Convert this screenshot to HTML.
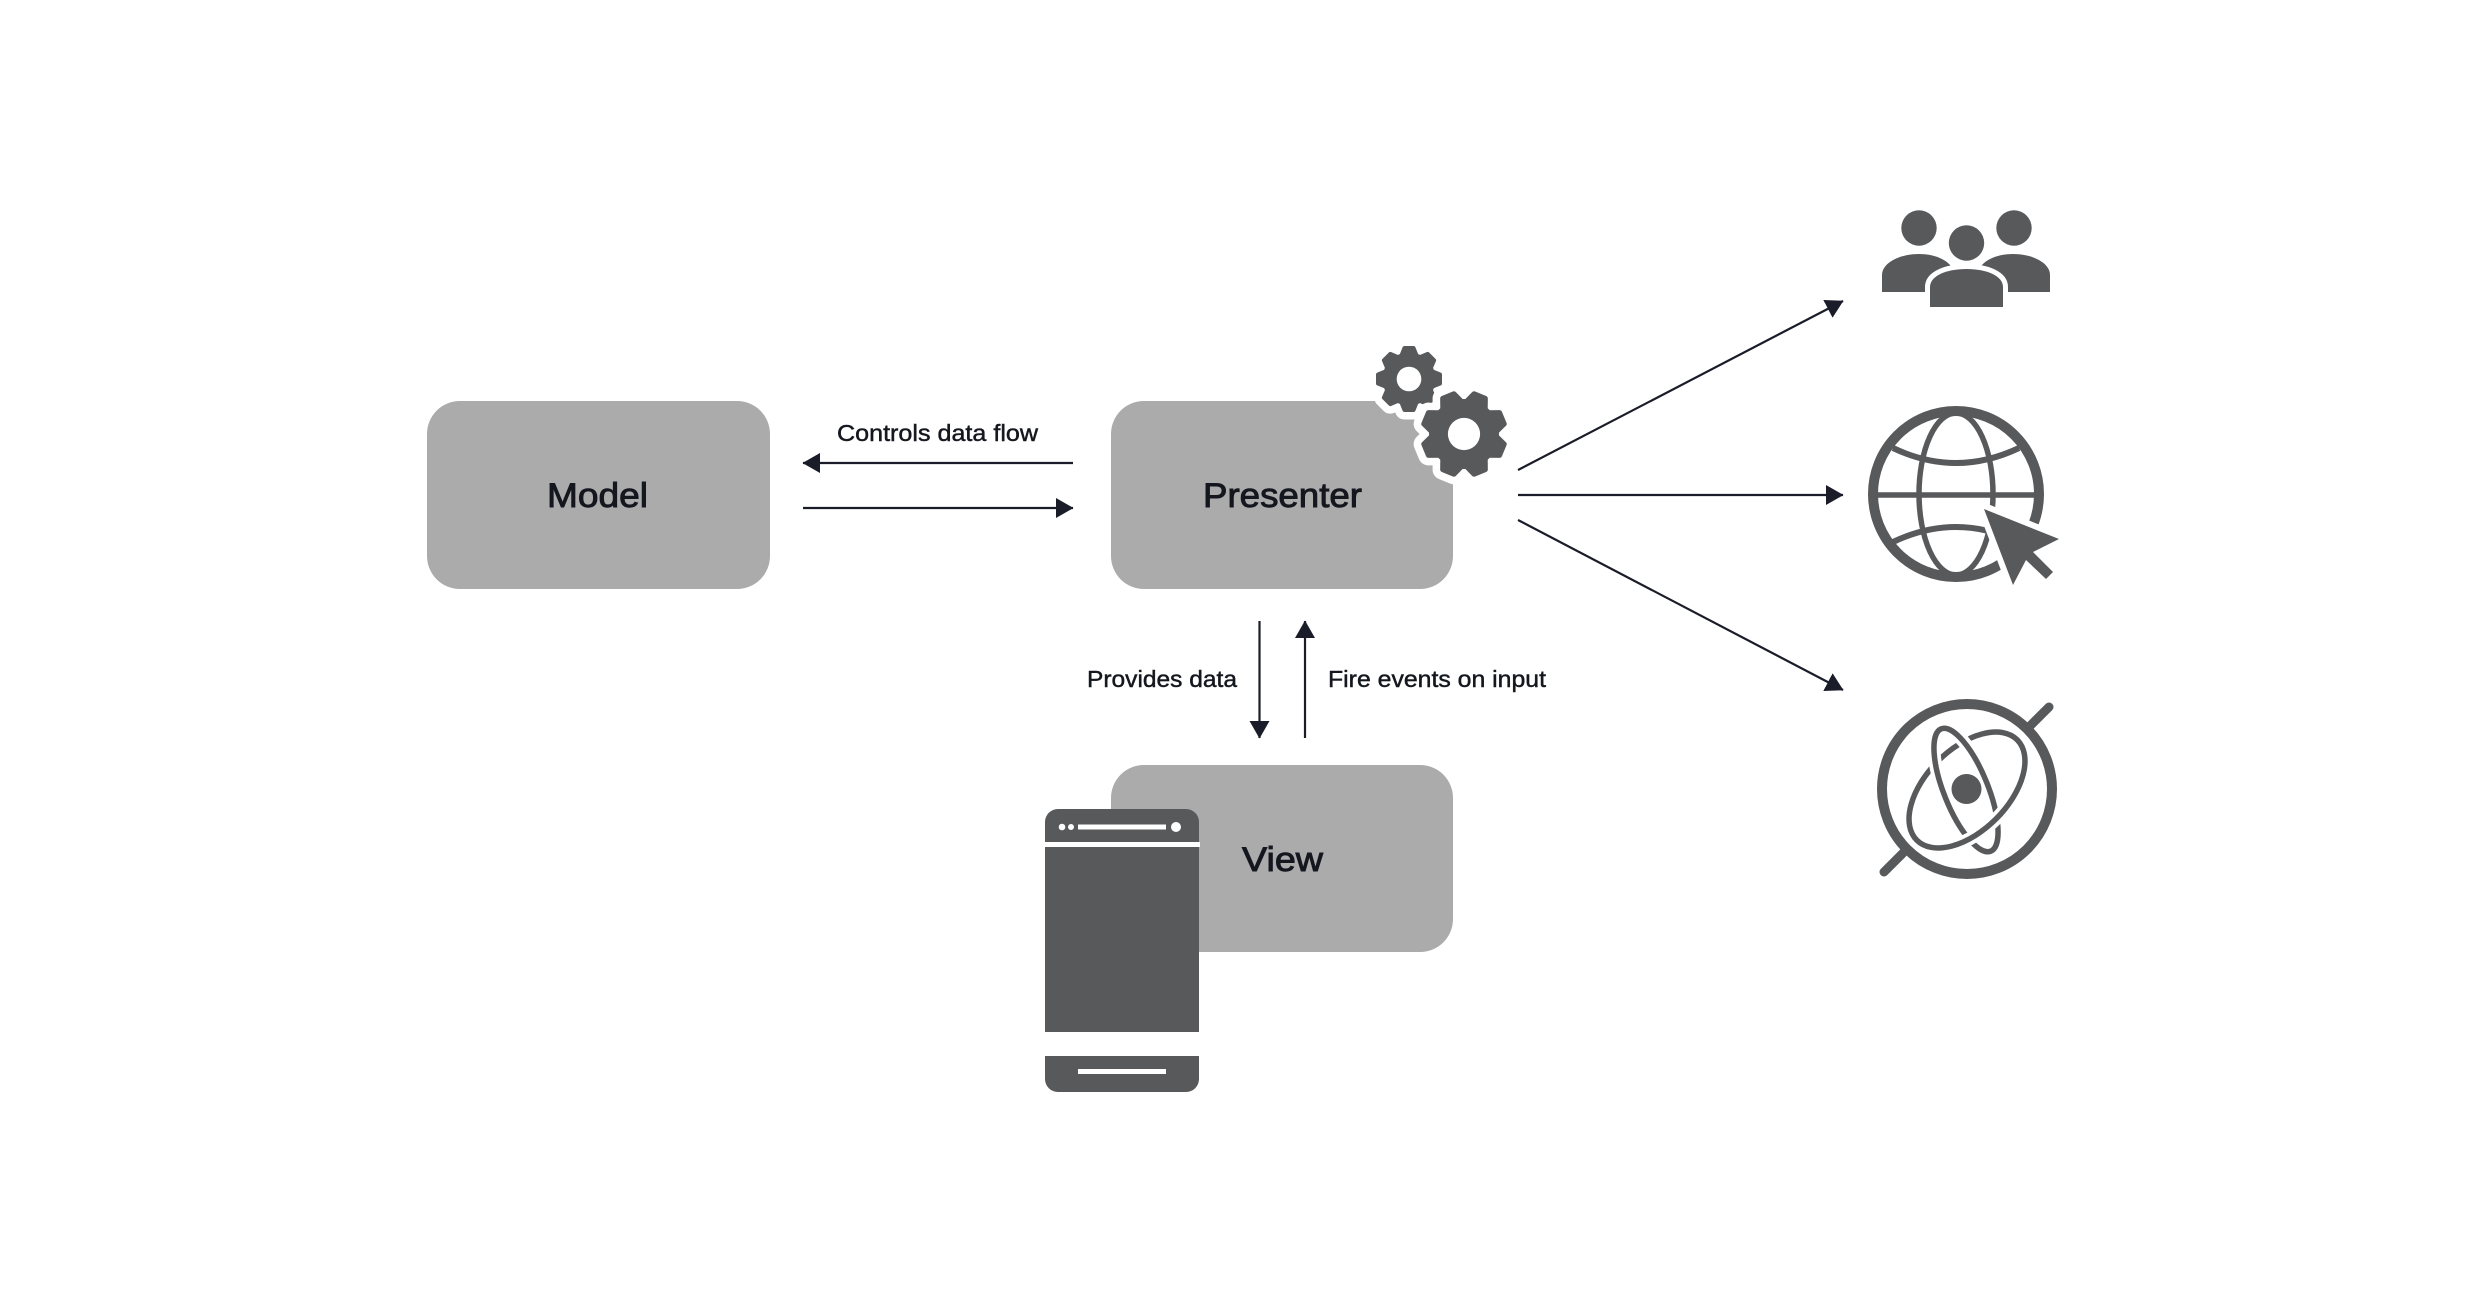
<!DOCTYPE html>
<html><head><meta charset="utf-8"><title>MVP diagram</title>
<style>
html,body{margin:0;padding:0;background:#fff;width:2488px;height:1302px;overflow:hidden}
svg{display:block}
text{font-family:"Liberation Sans",sans-serif;fill:#15171f;stroke:#15171f}
.s{font-size:23px;stroke-width:.45px}
.b{font-size:34px;stroke-width:.9px}
</style></head><body>
<svg width="2488" height="1302" viewBox="0 0 2488 1302" xmlns="http://www.w3.org/2000/svg">
<defs>
<marker id="h" markerUnits="userSpaceOnUse" markerWidth="20" markerHeight="24" refX="17" refY="12" orient="auto"><path d="M0 2 L17.5 12 L0 22Z" fill="#1a1d29"/></marker>
<path id="t" d="M-9.5 -24 L-6.5 -31.5 Q-6 -33 -4.5 -33 L4.5 -33 Q6 -33 6.5 -31.5 L9.5 -24Z"/>
<g id="gear">
<circle r="26.5"/>
<use href="#t"/>
<use href="#t" transform="rotate(45)"/>
<use href="#t" transform="rotate(90)"/>
<use href="#t" transform="rotate(135)"/>
<use href="#t" transform="rotate(180)"/>
<use href="#t" transform="rotate(225)"/>
<use href="#t" transform="rotate(270)"/>
<use href="#t" transform="rotate(315)"/>
</g>
<clipPath id="top"><rect x="1860" y="690" width="240" height="95"/></clipPath>
</defs>

<!-- boxes -->
<rect x="427" y="401" width="343" height="188" rx="33" fill="#ababac"/>
<rect x="1111" y="401" width="342" height="188" rx="33" fill="#ababac"/>
<rect x="1111" y="765" width="342" height="187" rx="33" fill="#ababac"/>
<text class="b" x="547" y="507" textLength="101" lengthAdjust="spacingAndGlyphs">Model</text>
<text class="b" x="1203" y="507" textLength="159" lengthAdjust="spacingAndGlyphs">Presenter</text>
<text class="b" x="1242" y="871" textLength="81" lengthAdjust="spacingAndGlyphs">View</text>

<!-- connectors -->
<g stroke="#1a1d29" stroke-width="2.2" fill="none" marker-end="url(#h)">
<line x1="1073" y1="463" x2="803" y2="463"/>
<line x1="803" y1="508" x2="1073" y2="508"/>
<line x1="1259.5" y1="621" x2="1259.5" y2="738"/>
<line x1="1305" y1="738" x2="1305" y2="621"/>
<line x1="1518" y1="470" x2="1843" y2="301"/>
<line x1="1518" y1="495" x2="1843" y2="495"/>
<line x1="1518" y1="520" x2="1843" y2="690"/>
</g>
<text class="s" x="837" y="441" textLength="201" lengthAdjust="spacingAndGlyphs">Controls data flow</text>
<text class="s" x="1087" y="687" textLength="150" lengthAdjust="spacingAndGlyphs">Provides data</text>
<text class="s" x="1328" y="687" textLength="218" lengthAdjust="spacingAndGlyphs">Fire events on input</text>

<!-- gears -->
<g transform="translate(1409 379)">
<use href="#gear" fill="#fff" stroke="#fff" stroke-width="15" stroke-linejoin="round"/>
<use href="#gear" fill="#58595b"/>
<circle r="12.3" fill="#fff"/>
</g>
<g transform="translate(1464 434) rotate(22.5) scale(1.32)">
<use href="#gear" fill="#fff" stroke="#fff" stroke-width="11.5" stroke-linejoin="round"/>
<use href="#gear" fill="#58595b"/>
<circle r="12.2" fill="#fff"/>
</g>

<!-- people -->
<g fill="#58595b">
<circle cx="1919" cy="228" r="17.7"/>
<circle cx="2014" cy="228" r="17.7"/>
<circle cx="1966.5" cy="243" r="17.7"/>
<path d="M1882 292 V275 C1882 263 1899 254 1919 254 C1934 254 1945 259 1951 266 L1966 292Z"/>
<path d="M2050 292 V275 C2050 263 2033 254 2013 254 C1998 254 1987 259 1981 266 L1966 292Z"/>
<path d="M1930 307 V287 C1930 276 1946 269 1966.5 269 C1987 269 2003 276 2003 287 V307Z" stroke="#fff" stroke-width="10" paint-order="stroke"/>
</g>
<rect x="1924" y="292" width="6" height="18" fill="#fff"/>
<rect x="2003" y="292" width="6" height="18" fill="#fff"/>
<rect x="1925" y="307.5" width="83" height="6" fill="#fff"/>

<!-- globe -->
<g fill="none" stroke="#58595b">
<circle cx="1956" cy="494" r="83" stroke-width="10"/>
<ellipse cx="1956" cy="494" rx="37" ry="81" stroke-width="5.5"/>
<line x1="1875" y1="495" x2="2037" y2="495" stroke-width="5.5"/>
<path d="M1893 448 Q1956 478 2019 448" stroke-width="6"/>
<path d="M1893 542 Q1956 512 2019 542" stroke-width="6"/>
</g>
<path d="M1984 509 L2059 539 L2033 552 L2053 572 L2046 579 L2026 560 L2013 585Z" fill="#58595b" stroke="#fff" stroke-width="12" stroke-linejoin="miter" paint-order="stroke"/>

<!-- atom -->
<g fill="none" stroke="#58595b">
<circle cx="1967" cy="789" r="85" stroke-width="10"/>
<line x1="2049" y1="707" x2="2030" y2="726" stroke-width="9" stroke-linecap="round"/>
<line x1="1884" y1="872" x2="1903" y2="853" stroke-width="9" stroke-linecap="round"/>
<ellipse cx="1966" cy="790" rx="22" ry="66" transform="rotate(-22 1966 790)" stroke-width="5.5"/>
<ellipse cx="1967" cy="790" rx="71" ry="41" transform="rotate(-45 1967 790)" stroke="#fff" stroke-width="13"/>
<ellipse cx="1967" cy="790" rx="71" ry="41" transform="rotate(-45 1967 790)" stroke-width="5.5"/>
<g clip-path="url(#top)">
<ellipse cx="1966" cy="790" rx="22" ry="66" transform="rotate(-22 1966 790)" stroke="#fff" stroke-width="13"/>
<ellipse cx="1966" cy="790" rx="22" ry="66" transform="rotate(-22 1966 790)" stroke-width="5.5"/>
</g>
</g>
<circle cx="1966.5" cy="789" r="15" fill="#58595b"/>

<!-- phone -->
<rect x="1045" y="809" width="154" height="283" rx="13" fill="#58595b"/>
<rect x="1044" y="842" width="156" height="5" fill="#fff"/>
<rect x="1044" y="1032" width="156" height="24" fill="#fff"/>
<circle cx="1062" cy="827" r="3.3" fill="#fff"/>
<circle cx="1071" cy="827" r="3" fill="#fff"/>
<rect x="1078" y="824.5" width="88" height="5" fill="#fff"/>
<circle cx="1176" cy="827" r="5" fill="#fff"/>
<rect x="1078" y="1069" width="88" height="5" fill="#fff"/>
</svg>
</body></html>
